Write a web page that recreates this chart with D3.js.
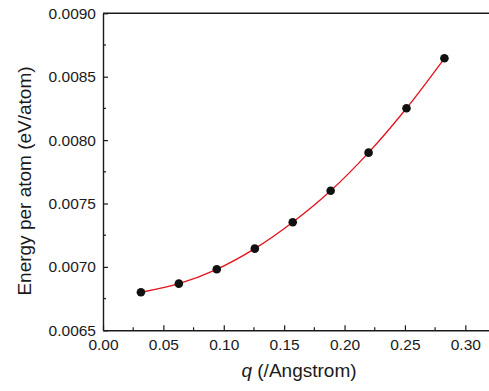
<!DOCTYPE html>
<html>
<head>
<meta charset="utf-8">
<script src="https://cdn.jsdelivr.net/npm/d3@7"></script>
<style>
  body { margin: 0; background: #fff; }
  svg { display: block; }
  text { font-family: "Liberation Sans", Arial, sans-serif; fill: #1a1a1a; }
</style>
</head>
<body>
<div id="chart"></div>
<script>
// chart data
var q_values = [0.0314, 0.0628, 0.0942, 0.1257, 0.1571, 0.1885, 0.2199, 0.2513, 0.2827];
var energy_values = [0.00680, 0.006868, 0.006981, 0.007144, 0.007352, 0.00760, 0.007901, 0.008251, 0.008645];
var x_ticks = [0.00, 0.05, 0.10, 0.15, 0.20, 0.25, 0.30];
var y_ticks = [0.0065, 0.0070, 0.0075, 0.0080, 0.0085, 0.0090];

var chart_width = 489, chart_height = 391;
var plot_left = 103, plot_top = 13.3, plot_bottom = 330.3;

var svg = d3.select("#chart")
  .append("svg")
    .attr("width", chart_width)
    .attr("height", chart_height);

// x axis runs past the right edge of the picture (it is cropped there)
var x = d3.scaleLinear().domain([0, 0.33]).range([plot_left, plot_left + 0.33 * 1207.7]);
var y = d3.scaleLinear().domain([0.0065, 0.0090]).range([plot_bottom, plot_top]);

// minor ticks in between the majors
var x_minor = x_ticks.map(function(d) { return d + 0.025; });
var y_minor = y_ticks.slice(0, -1).map(function(d) { return d + 0.00025; });

// bottom axis (ticks point inward)
var xAxis = svg.append("g")
  .attr("transform", `translate(0, ${plot_bottom})`)
  .call(d3.axisBottom(x).tickValues(x_ticks).tickSizeInner(-5).tickSizeOuter(0)
        .tickFormat(d3.format(".2f")));
xAxis.select(".domain").attr("stroke", "#1a1a1a").attr("stroke-width", 1.4);
xAxis.selectAll(".tick line").attr("stroke", "#1a1a1a").attr("stroke-width", 1.2);
xAxis.selectAll(".tick text").attr("y", 9).attr("dy", "0.71em").style("font-size", "15.5px");
xAxis.selectAll("minor")
  .data(x_minor)
  .join("line")
    .attr("x1", function(d) { return x(d); })
    .attr("x2", function(d) { return x(d); })
    .attr("y1", 0).attr("y2", -3)
    .attr("stroke", "#1a1a1a").attr("stroke-width", 1.2);

// left axis
var yAxis = svg.append("g")
  .attr("transform", `translate(${plot_left}, 0)`)
  .call(d3.axisLeft(y).tickValues(y_ticks).tickSizeInner(-5).tickSizeOuter(0)
        .tickFormat(d3.format(".4f")));
yAxis.select(".domain").attr("stroke", "#1a1a1a").attr("stroke-width", 1.4);
yAxis.selectAll(".tick line").attr("stroke", "#1a1a1a").attr("stroke-width", 1.2);
yAxis.selectAll(".tick text").attr("x", -7).style("font-size", "15.5px");
yAxis.selectAll("minor")
  .data(y_minor)
  .join("line")
    .attr("y1", function(d) { return y(d); })
    .attr("y2", function(d) { return y(d); })
    .attr("x1", 0).attr("x2", 3)
    .attr("stroke", "#1a1a1a").attr("stroke-width", 1.2);

// top frame line
svg.append("line")
  .attr("x1", plot_left).attr("x2", chart_width)
  .attr("y1", y(0.0090)).attr("y2", y(0.0090))
  .attr("stroke", "#1a1a1a").attr("stroke-width", 1.4);

// fitted curve through the points
var points = q_values.map(function(d, i) { return [d, energy_values[i]]; });
var line = d3.line()
  .x(function(d) { return x(d[0]); })
  .y(function(d) { return y(d[1]); })
  .curve(d3.curveCatmullRom);

svg.append("path")
  .datum(points)
  .attr("d", line)
  .attr("fill", "none")
  .attr("stroke", "#e3121b")
  .attr("stroke-width", 1.3);

svg.selectAll("dots")
  .data(points)
  .join("circle")
    .attr("cx", function(d) { return x(d[0]); })
    .attr("cy", function(d) { return y(d[1]); })
    .attr("r", 4.3)
    .attr("fill", "#111");

// axis titles
var xTitle = svg.append("text")
  .attr("x", 299)
  .attr("y", 377)
  .attr("text-anchor", "middle")
  .style("font-size", "19px");
xTitle.append("tspan").style("font-style", "italic").text("q");
xTitle.append("tspan").text(" (/Angstrom)");

svg.append("text")
  .attr("transform", "translate(31, 181) rotate(-90)")
  .attr("text-anchor", "middle")
  .style("font-size", "19px")
  .text("Energy per atom (eV/atom)");
</script>
</body>
</html>
